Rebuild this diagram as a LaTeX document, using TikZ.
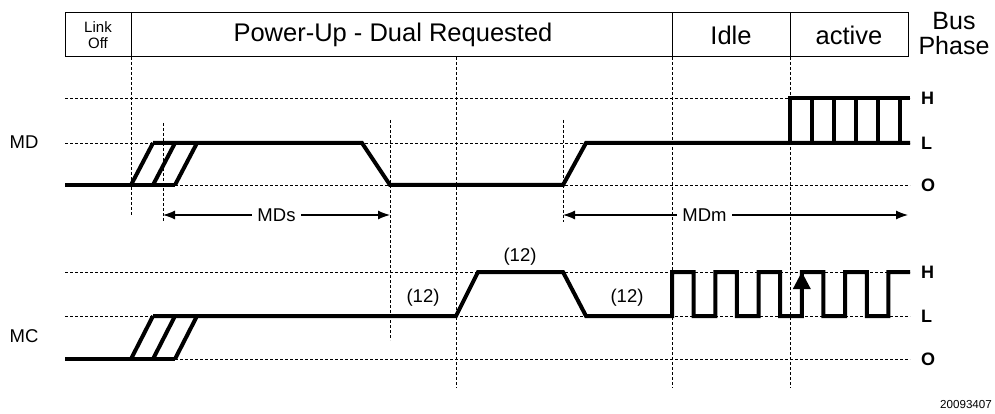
\documentclass[tikz,border=0pt]{standalone}
\usepackage{fontspec}
\setmainfont{Liberation Sans}
\usetikzlibrary{arrows.meta}

\tikzset{
 sig/.style={line width=4pt}, %信号線
 guide/.style={line width=0.9pt,dash pattern=on 3pt off 2pt}, %補助の破線
 cell/.style={draw,line width=1pt,minimum height=44pt,inner sep=0pt}, %バスフェーズの枠
 lvl/.style={font=\bfseries\fontsize{18}{18}\selectfont,anchor=west,inner sep=0pt}, %H,L,O
 txt/.style={font=\fontsize{18.5}{18.5}\selectfont,inner sep=0pt}, %一般の文字
}

\begin{document}
\begin{tikzpicture}[x=1pt,y=-1pt]
 \useasboundingbox (0,0) rectangle (995,414); %全体の大きさ
 \node[cell,minimum width=66pt,align=center,font=\fontsize{15}{16}\selectfont] (linkoff) at (98,35) {Link\\Off}; %Link Off
 \node[cell,minimum width=541pt] (powerup) at (401.5,35) {}; %Power-Up枠
 \node[font=\fontsize{25.5}{26}\selectfont,inner sep=0pt] (poweruptxt) at (393,35) {Power-Up - Dual Requested}; %Power-Up文字
 \node[cell,minimum width=118pt,font=\fontsize{25.5}{26}\selectfont] (idle) at (731,35) {Idle}; %Idle
 \node[cell,minimum width=118pt,font=\fontsize{25.5}{26}\selectfont] (active) at (849,35) {active}; %active
 \node[align=center,font=\fontsize{25}{25}\selectfont,inner sep=0pt] (busphase) at (954,34) {Bus\\Phase}; %Bus Phase
 \node[txt] (md) at (24,142) {MD}; %MD
 \node[txt] (mc) at (24,336) {MC}; %MC
 \foreach \y/\t in {98/H,143/L,185/O,272/H,316/L,359/O}{
  \draw[guide] (65,\y)--(910,\y); %レベルの破線
  \node[lvl] (lv\y) at (921,\y) {\t}; %レベル名
 }
 \foreach \x/\ya/\yb in {131/57/215,163/123/222,390/120/340,456/57/388,563/120/222,672/57/388,790/57/388}
  \draw[guide] (\x,\ya)--(\x,\yb); %縦の破線
 \coordinate (mdsL) at (163,215); %MDs左端
 \coordinate (mdsR) at (390,215); %MDs右端
 \coordinate (mdmL) at (563,215); %MDm左端
 \coordinate (mdmR) at (908,215); %MDm右端
 \draw[line width=1.2pt,<->,>={Latex[length=12pt,width=9pt]}] (mdsL)--(mdsR) node[txt,midway,fill=white,inner sep=5pt] (mds) {MDs}; %MDs
 \draw[line width=1.2pt,<->,>={Latex[length=12pt,width=9pt]}] (mdmL)--(mdmR) node[txt,pos=0.41,fill=white,inner sep=5pt] (mdm) {MDm}; %MDm
 % MD信号
 \draw[sig] (65,185)--(175,185); %低レベル
 \draw[sig] (131,185)--(153,143) (153,185)--(175,143) (175,185)--(197,143); %立ち上がり3本
 \draw[sig] (153,143)--(362,143)--(390,185)--(563,185)--(586,143)--(910,143); %MD本体
 \draw[sig] (790,143)|-(910,98); %active部
 \foreach \x in {812,834,856,878,900}
  \draw[sig] (\x,98)--(\x,143); %縦線
 % MC信号
 \draw[sig] (65,359)--(175,359); %低レベル
 \draw[sig] (131,359)--(153,316) (153,359)--(175,316) (175,359)--(197,316); %立ち上がり3本
 \draw[sig] (153,316)--(456,316)--(478,272)--(563,272)--(586,316)--(672,316)
  \foreach \k in {0,2,...,8}{--({672+\k*21.64},272)--({672+(\k+1)*21.64},272)--({672+(\k+1)*21.64},316)--({672+(\k+2)*21.64},316)}
  --(888.4,272)--(910,272); %MC本体
 \fill (801.8,272)--(792.8,289)--(810.8,289)--cycle; %矢印
 \node[txt] (t1) at (423,298) {(12)}; %(12)
 \node[txt] (t2) at (520,257) {(12)}; %(12)
 \node[txt] (t3) at (627,298) {(12)}; %(12)
 \node[font=\fontsize{11.6}{12}\selectfont,inner sep=0pt] (fig) at (966,405) {20093407}; %図番号
\end{tikzpicture}
\end{document}
